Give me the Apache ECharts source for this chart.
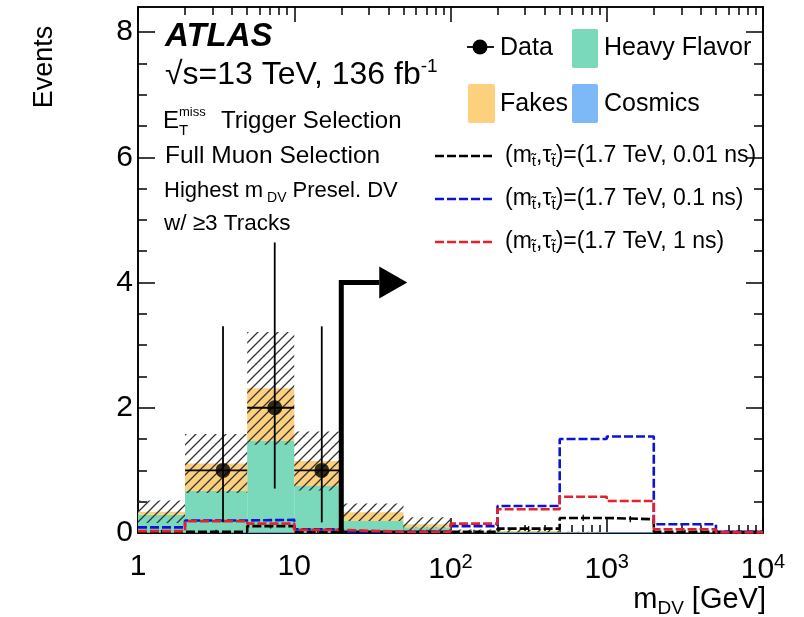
<!DOCTYPE html>
<html><head><meta charset="utf-8">
<script src="https://cdn.jsdelivr.net/npm/echarts@6/dist/echarts.min.js"></script>
<style>html,body{margin:0;padding:0;background:#fff}#c{width:804px;height:617px}</style>
</head><body><div id="c"></div>
<script>
// ---- data ----
const binEdges = [1, 2, 5, 10, 20, 50, 100, 200, 500, 1000, 2000, 5000, 10000];
const cosmics = [0.01, 0.01, 0.01, 0.01, 0.01, 0.01, 0.01, 0.01, 0.01, 0.01, 0.01, 0.01];
const heavyFlavor = [0.28, 0.66, 1.46, 0.74, 0.18, 0.08, 0.01, 0.005, 0, 0, 0, 0];
const fakes = [0.05, 0.44, 0.84, 0.40, 0.14, 0.05, 0.015, 0.015, 0.005, 0, 0, 0];
const bkgUnc = [0.18, 0.47, 0.90, 0.47, 0.14, 0.11, 0.02, 0.02, 0.005, 0, 0, 0];
const dataCounts = [0, 1, 2, 1, 0, 0, 0, 0, 0, 0, 0, 0];
const dataErrLow = [0, 0.83, 1.29, 0.83, 0, 0, 0, 0, 0, 0, 0, 0];
const dataErrHigh = [0, 2.30, 2.64, 2.30, 0, 0, 0, 0, 0, 0, 0, 0];
const sig001 = [0.02, 0.02, 0.11, 0.02, 0.02, 0.02, 0.02, 0.07, 0.24, 0.22, 0.02, 0.02];
const sig01 = [0.09, 0.20, 0.21, 0.06, 0.02, 0.02, 0.11, 0.43, 1.50, 1.54, 0.14, 0.02];
const sig1 = [0.03, 0.19, 0.15, 0.05, 0.02, 0.02, 0.15, 0.38, 0.58, 0.51, 0.06, 0.01];
const sig001Err = [0.03, 0.03, 0.04, 0.03, 0.03, 0.03, 0.03, 0.04, 0.05, 0.05, 0.03, 0.03];
const arrowCut = 20, arrowLevel = 4, arrowEnd = 35;
const xMajorTicks = [1, 10, 100, 1000, 10000];
const xTickLabels = ['1', '10', '10{sup|2}', '10{sup|3}', '10{sup|4}'];
const xMinorTicks = [2, 3, 4, 5, 6, 7, 8, 9, 20, 30, 40, 50, 60, 70, 80, 90,
  200, 300, 400, 500, 600, 700, 800, 900, 2000, 3000, 4000, 5000, 6000, 7000, 8000, 9000];
const yMajorTicks = [0, 2, 4, 6, 8];
const yMinorTicks = [0.5, 1, 1.5, 2.5, 3, 3.5, 4.5, 5, 5.5, 6.5, 7, 7.5];

// ---- styling ----
const FONT = 'Liberation Sans, Arial, Helvetica, sans-serif';
const C_HF = '#7ad8bb', C_FK = '#fdd07e', C_CO = '#7db9f7';

function hatchCanvas() {
  const s = 10, c = document.createElement('canvas');
  c.width = s; c.height = s;
  const g = c.getContext('2d');
  g.strokeStyle = '#333333'; g.lineWidth = 1.3;
  g.beginPath();
  g.moveTo(0, s); g.lineTo(s, 0);
  g.moveTo(-s / 2, s / 2); g.lineTo(s / 2, -s / 2);
  g.moveTo(s / 2, s * 1.5); g.lineTo(s * 1.5, s / 2);
  g.stroke();
  return c;
}
const hatch = hatchCanvas();

const nb = heavyFlavor.length;
const base0 = cosmics.map(() => 0);
const base1 = cosmics.slice();
const base2 = cosmics.map((v, i) => v + heavyFlavor[i]);
const total = cosmics.map((v, i) => v + heavyFlavor[i] + fakes[i]);

function rectSeries(name, lows, highs, fill, z) {
  const data = [];
  for (let i = 0; i < nb; i++) {
    if (highs[i] > lows[i]) data.push([binEdges[i], binEdges[i + 1], lows[i], highs[i]]);
  }
  return {
    type: 'custom', name, xAxisIndex: 0, yAxisIndex: 0, z, silent: true, clip: true,
    data, encode: { x: [0, 1], y: [2, 3] },
    renderItem: (p, api) => {
      const a = api.coord([api.value(0), api.value(3)]);
      const b = api.coord([api.value(1), api.value(2)]);
      return { type: 'rect', shape: { x: a[0], y: a[1], width: b[0] - a[0], height: b[1] - a[1] },
        style: { fill } };
    }
  };
}

function stepSeries(name, values, color) {
  const data = values.map((v, i) => [binEdges[i], v]);
  data.push([binEdges[nb], values[nb - 1]]);
  return {
    type: 'line', name, xAxisIndex: 0, yAxisIndex: 0, step: 'end', data, z: 5,
    showSymbol: false, symbol: 'none', silent: true,
    lineStyle: { color, width: 2.6, type: [9, 3] }
  };
}

function stepErrSeries(name, values, errs, color) {
  const data = values.map((v, i) => [Math.sqrt(binEdges[i] * binEdges[i + 1]), Math.max(0, v - errs[i]), v + errs[i]]);
  return {
    type: 'custom', name, xAxisIndex: 0, yAxisIndex: 0, z: 5, silent: true, clip: true,
    data, encode: { x: 0, y: [1, 2] },
    renderItem: (p, api) => {
      const a = api.coord([api.value(0), api.value(1)]);
      const b = api.coord([api.value(0), api.value(2)]);
      return { type: 'line', shape: { x1: a[0], y1: a[1], x2: b[0], y2: b[1] }, style: { stroke: color, lineWidth: 1.3 } };
    }
  };
}

const dataPts = [], dataBars = [];
for (let i = 0; i < nb; i++) {
  if (dataCounts[i] > 0) {
    const xc = (binEdges[i] + binEdges[i + 1]) / 2;
    dataPts.push([xc, dataCounts[i]]);
    dataBars.push([xc, dataCounts[i], dataCounts[i] - dataErrLow[i], dataCounts[i] + dataErrHigh[i], binEdges[i], binEdges[i + 1]]);
  }
}

const lowUnc = total.map((t, i) => Math.max(0, t - bkgUnc[i]));
const highUnc = total.map((t, i) => t + bkgUnc[i]);

const series = [
  rectSeries('Cosmics', base0, base1, C_CO, 1),
  rectSeries('Heavy Flavor', base1, base2, C_HF, 1),
  rectSeries('Fakes', base2, total, C_FK, 1),
  rectSeries('Uncertainty', lowUnc, highUnc, { image: hatch, repeat: 'repeat' }, 2),
  stepErrSeries('sig001Err', sig001, sig001Err, '#000000'),
  stepSeries('sig001', sig001, '#000000'),
  stepSeries('sig01', sig01, '#0a14d6'),
  stepSeries('sig1', sig1, '#e8202a'),
  {
    type: 'custom', name: 'DataErr', xAxisIndex: 0, yAxisIndex: 0, z: 8, silent: true,
    data: dataBars, encode: { x: 0, y: [2, 3] },
    renderItem: (p, api) => {
      const c = api.coord([api.value(0), api.value(1)]);
      const lo = api.coord([api.value(0), api.value(2)]);
      const hi = api.coord([api.value(0), api.value(3)]);
      const l = api.coord([api.value(4), api.value(1)]);
      const r = api.coord([api.value(5), api.value(1)]);
      const st = { stroke: '#000', lineWidth: 1.8 };
      return { type: 'group', children: [
        { type: 'line', shape: { x1: lo[0], y1: lo[1], x2: hi[0], y2: hi[1] }, style: st },
        { type: 'line', shape: { x1: l[0], y1: c[1], x2: r[0], y2: c[1] }, style: st }
      ] };
    }
  },
  {
    type: 'scatter', name: 'Data', xAxisIndex: 0, yAxisIndex: 0, z: 9, silent: true,
    data: dataPts, symbol: 'circle', symbolSize: 15, itemStyle: { color: '#000' }
  },
  {
    type: 'custom', name: 'Arrow', xAxisIndex: 0, yAxisIndex: 0, z: 10, silent: true,
    data: [[arrowCut, 0, arrowLevel, arrowEnd]], encode: { x: [0, 3], y: [1, 2] },
    renderItem: (p, api) => {
      const b = api.coord([api.value(0), api.value(1)]);
      const t = api.coord([api.value(0), api.value(2)]);
      const e = api.coord([api.value(3), api.value(2)]);
      return { type: 'group', children: [
        { type: 'polyline', shape: { points: [b, t, e] }, style: { stroke: '#000', lineWidth: 5, fill: null, lineJoin: 'miter' } },
        { type: 'polygon', shape: { points: [[e[0], e[1] - 16], [e[0] + 28, e[1]], [e[0], e[1] + 16]] }, style: { fill: '#000' } }
      ] };
    }
  }
];

function xAx(pos, ticks, len, labels) {
  return {
    type: 'log', logBase: 10, min: 1, max: 10000, position: pos, gridIndex: 0,
    axisLine: { show: true, onZero: false, lineStyle: { color: '#000', width: 1.6 } },
    axisTick: { show: true, inside: true, length: len, customValues: ticks, lineStyle: { color: '#000', width: 1.5 } },
    axisLabel: labels ? {
      show: true, customValues: xMajorTicks, margin: 19, color: '#000', fontFamily: FONT, fontSize: 30,
      formatter: v => { const k = xMajorTicks.indexOf(Math.round(v)); return k >= 0 ? xTickLabels[k] : ''; },
      rich: { sup: { fontSize: 20, fontFamily: FONT, color: '#000', padding: [0, 0, 16, 0] } }
    } : { show: false },
    splitLine: { show: false }, minorTick: { show: false }
  };
}
function yAx(pos, ticks, len, labels) {
  return {
    type: 'value', min: 0, max: 8.4, position: pos, gridIndex: 0,
    axisLine: { show: true, onZero: false, lineStyle: { color: '#000', width: 1.6 } },
    axisTick: { show: true, inside: true, length: len, customValues: ticks, lineStyle: { color: '#000', width: 1.5 } },
    axisLabel: labels ? { show: true, customValues: yMajorTicks, margin: 5, color: '#000', fontFamily: FONT, fontSize: 30 } : { show: false },
    splitLine: { show: false }
  };
}

const sub = (fs, pad, left) => ({ fontSize: fs, fontFamily: FONT, color: '#000', padding: [pad, 0, 0, left || 0] });
const sup = (fs, pad) => ({ fontSize: fs, fontFamily: FONT, color: '#000', padding: [0, 0, pad, 0] });
function txt(x, y, text, fs, extra) {
  return Object.assign({ type: 'text', x, y, z: 20, style: Object.assign({
    text, fontSize: fs, fontFamily: FONT, fill: '#000', verticalAlign: 'middle', align: 'left'
  }, extra || {}) });
}
const sigLabel = t => '(m{s|t\u0303},τ{s|t\u0303})=(1.7 TeV, ' + t + ')';
const sigRich = { s: sub(15, 12) };

const graphic = [
  txt(165, 37, 'ATLAS', 33, { fontWeight: 'bold', fontStyle: 'italic' }),
  txt(165, 75, '√s=13 TeV, 136 fb{p|-1}', 32, { rich: { p: sup(19, 17) } }),
  txt(163, 121, 'E', 24),
  txt(179, 112, 'miss', 13),
  txt(179, 131, 'T', 15),
  txt(221, 121, 'Trigger Selection', 24),
  txt(165, 156, 'Full Muon Selection', 24.5),
  txt(164, 191, 'Highest m{s|DV} Presel. DV', 22, { rich: { s: sub(14, 14, 4) } }),
  txt(164, 224, 'w/ ≥3 Tracks', 22.5),
  // legend
  { type: 'line', z: 20, shape: { x1: 467, y1: 47, x2: 494, y2: 47 }, style: { stroke: '#000', lineWidth: 1.8 } },
  { type: 'circle', z: 20, shape: { cx: 480, cy: 47, r: 7.5 }, style: { fill: '#000' } },
  txt(500, 48, 'Data', 25),
  { type: 'rect', z: 20, shape: { x: 572, y: 29, width: 26, height: 39, r: 2 }, style: { fill: C_HF } },
  txt(604, 48, 'Heavy Flavor', 25),
  { type: 'rect', z: 20, shape: { x: 468, y: 84, width: 27, height: 39, r: 2 }, style: { fill: C_FK } },
  txt(500, 104, 'Fakes', 25),
  { type: 'rect', z: 20, shape: { x: 572, y: 84, width: 26, height: 39, r: 2 }, style: { fill: C_CO } },
  txt(604, 104, 'Cosmics', 25),
  { type: 'line', z: 20, shape: { x1: 435, y1: 156, x2: 492, y2: 156 }, style: { stroke: '#000', lineWidth: 2.6, lineDash: [9, 3] } },
  txt(505, 156, sigLabel('0.01 ns'), 23, { rich: sigRich }),
  { type: 'line', z: 20, shape: { x1: 435, y1: 199, x2: 492, y2: 199 }, style: { stroke: '#0a14d6', lineWidth: 2.6, lineDash: [9, 3] } },
  txt(505, 199, sigLabel('0.1 ns'), 23, { rich: sigRich }),
  { type: 'line', z: 20, shape: { x1: 435, y1: 242, x2: 492, y2: 242 }, style: { stroke: '#e8202a', lineWidth: 2.6, lineDash: [9, 3] } },
  txt(505, 242, sigLabel('1 ns'), 23, { rich: sigRich }),
  // axis titles
  { type: 'text', z: 20, x: 45, y: 67, rotation: Math.PI / 2,
    style: { text: 'Events', fontSize: 27, fontFamily: FONT, fill: '#000', align: 'center', verticalAlign: 'middle' } },
  txt(766, 600, 'm{s|DV} [GeV]', 29, { align: 'right', rich: { s: sub(19, 17) } })
];

const option = {
  animation: false,
  backgroundColor: '#fff',
  grid: { left: 138, right: 41, top: 7, bottom: 84, containLabel: false },
  xAxis: [
    xAx('bottom', xMajorTicks, 15, true),
    xAx('bottom', xMinorTicks, 8, false),
    xAx('top', xMajorTicks, 15, false),
    xAx('top', xMinorTicks, 8, false)
  ],
  yAxis: [
    yAx('left', yMajorTicks, 17, true),
    yAx('left', yMinorTicks, 9, false),
    yAx('right', yMajorTicks, 17, false),
    yAx('right', yMinorTicks, 9, false)
  ],
  series,
  graphic
};
const chart = echarts.init(document.getElementById('c'), null, { renderer: 'canvas' });
chart.setOption(option);
</script>
</body></html>
